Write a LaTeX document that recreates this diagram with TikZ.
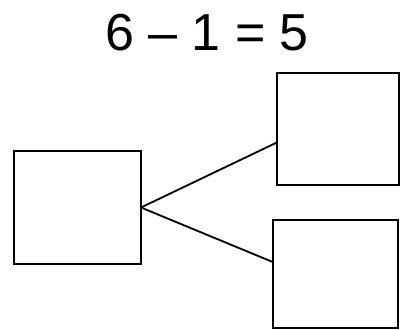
\documentclass[tikz,border=0pt]{standalone}
\usepackage{fontspec}
\setmainfont{Liberation Sans}
\usepackage{tikz}
\usetikzlibrary{calc}

\begin{document}
\begin{tikzpicture}[x=0.25mm, y=-0.25mm, line width=1.3pt,
  box/.style={draw, minimum width=#1, inner sep=0pt, outer sep=0pt},
  box/.default=31mm]
  \useasboundingbox (0,0) rectangle (400,330);
  \node[font=\fontsize{37}{40}\selectfont] (eq) at (207,33) {6 -- 1 = 5};
  \node[box=31.75mm, minimum height=28.25mm] (whole) at (77.5,207.5) {};
  \node[box=30.5mm, minimum height=28mm] (parta) at (338,129) {};
  \node[box=31.25mm, minimum height=27mm] (partb) at (335.5,274) {};
  \coordinate (ina) at ($(parta.north west)!0.62!(parta.south west)$);
  \coordinate (inb) at ($(partb.north west)!0.39!(partb.south west)$);
  \draw (whole.east) -- (ina);
  \draw (whole.east) -- (inb);
\end{tikzpicture}
\end{document}
